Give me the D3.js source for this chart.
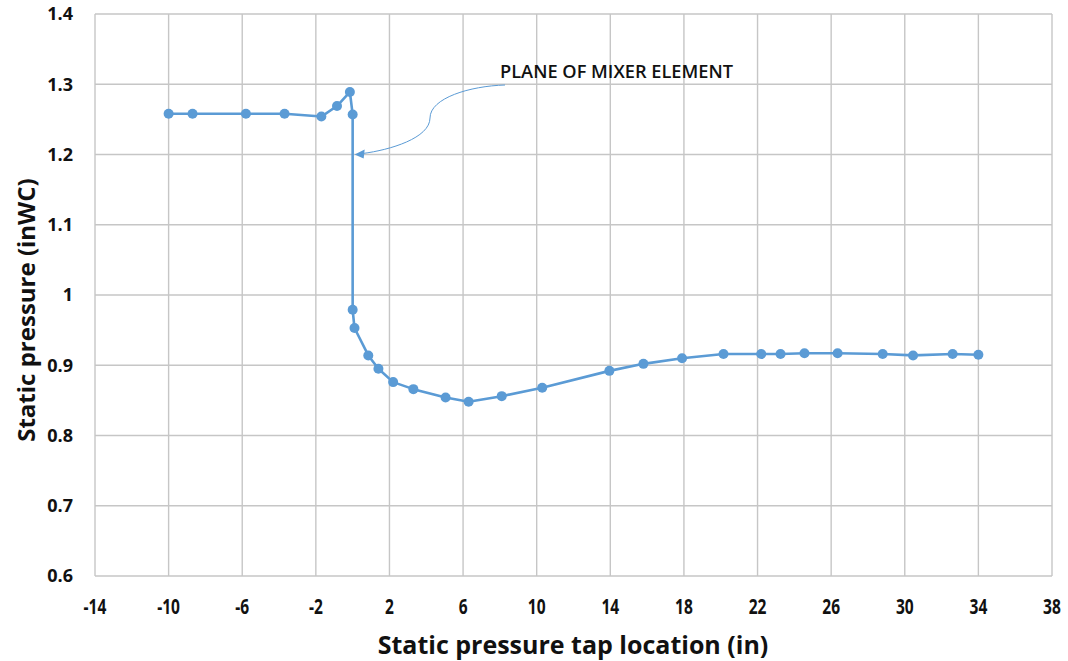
<!DOCTYPE html>
<html>
<head>
<meta charset="utf-8">
<script src="https://cdn.jsdelivr.net/npm/d3@7"></script>
<style>
  html, body { margin: 0; padding: 0; background: #fff; }
  svg { display: block; }
</style>
</head>
<body>
<svg id="chart" width="1068" height="661"></svg>
<script>
// Tap locations (in) and measured static pressure (inWC)
const tapLocation = [-10, -8.7, -5.8, -3.7, -1.7, -0.85, -0.15, 0, 0, 0.1, 0.85, 1.4, 2.2, 3.3, 5.05, 6.3, 8.1, 10.3, 13.95, 15.8, 17.9, 20.15, 22.2, 23.25, 24.55, 26.35, 28.8, 30.45, 32.6, 34];
const staticPressure = [1.258, 1.258, 1.258, 1.258, 1.254, 1.269, 1.289, 1.257, 0.979, 0.953, 0.914, 0.895, 0.876, 0.866, 0.854, 0.848, 0.856, 0.868, 0.892, 0.902, 0.910, 0.916, 0.916, 0.916, 0.917, 0.917, 0.916, 0.914, 0.916, 0.915];
const xTicks = [-14, -10, -6, -2, 2, 6, 10, 14, 18, 22, 26, 30, 34, 38];
const yTicks = [0.6, 0.7, 0.8, 0.9, 1, 1.1, 1.2, 1.3, 1.4];
const annotationText = "PLANE OF MIXER ELEMENT";
const annotationPoint = [0, 1.2];
const xTitle = "Static pressure tap location (in)";
const yTitle = "Static pressure (inWC)";

const svg = d3.select("#chart");
const blue = "#5b9bd5";
const grid = "#c6c6c6";
const font = "'Open Sans', 'DejaVu Sans', sans-serif";

const plot = { left: 95, right: 1052, top: 14, bottom: 576 };

const x = d3.scaleLinear().domain([-14, 38]).range([plot.left, plot.right]);
const y = d3.scaleLinear().domain([0.6, 1.4]).range([plot.bottom, plot.top]);

// Gridlines
const g = svg.append("g");
g.selectAll("line.vg").data(xTicks).join("line")
  .attr("x1", d => x(d)).attr("x2", d => x(d))
  .attr("y1", plot.top).attr("y2", plot.bottom)
  .attr("stroke", grid).attr("stroke-width", 1.4);
g.selectAll("line.hg").data(yTicks).join("line")
  .attr("x1", plot.left).attr("x2", plot.right)
  .attr("y1", d => y(d)).attr("y2", d => y(d))
  .attr("stroke", grid).attr("stroke-width", 1.4);

// Y tick labels
svg.append("g").selectAll("text").data(yTicks).join("text")
  .attr("x", 73).attr("y", d => y(d))
  .attr("dy", "0.35em")
  .attr("text-anchor", "end")
  .attr("font-family", font).attr("font-weight", 700).attr("font-size", 18)
  .attr("fill", "#111")
  .text(d => d3.format("")(d));

// X tick labels (condensed)
svg.append("g").selectAll("text").data(xTicks).join("text")
  .attr("transform", d => `translate(${x(d)},607) scale(0.74,1)`)
  .attr("dy", "0.35em")
  .attr("text-anchor", "middle")
  .attr("font-family", font).attr("font-weight", 700).attr("font-size", 21)
  .attr("fill", "#111")
  .text(d => d);

// Axis titles
svg.append("text")
  .attr("x", 573).attr("y", 645).attr("dy", "0.35em")
  .attr("text-anchor", "middle")
  .attr("font-family", font).attr("font-weight", 700).attr("font-size", 25)
  .attr("fill", "#111")
  .text(xTitle);
svg.append("text")
  .attr("transform", "translate(27,310) rotate(-90)")
  .attr("dy", "0.35em")
  .attr("text-anchor", "middle")
  .attr("font-family", font).attr("font-weight", 700).attr("font-size", 24)
  .attr("fill", "#111")
  .text(yTitle);

// Data series
const data = tapLocation.map((t, i) => [t, staticPressure[i]]);
svg.append("path")
  .datum(data)
  .attr("fill", "none")
  .attr("stroke", blue).attr("stroke-width", 2.6)
  .attr("stroke-linejoin", "round")
  .attr("d", d3.line().x(d => x(d[0])).y(d => y(d[1])));
svg.append("g").selectAll("circle").data(data).join("circle")
  .attr("cx", d => x(d[0])).attr("cy", d => y(d[1]))
  .attr("r", 5).attr("fill", blue);

// Callout for the mixer element plane
const tipX = x(annotationPoint[0]) + 2, tipY = y(annotationPoint[1]);
const startX = 505, startY = 85;
const callout = d3.path();
callout.moveTo(startX, startY);
callout.bezierCurveTo(470, 86, 430, 98, 430, 118);
callout.bezierCurveTo(430, 138, 390, 150, tipX + 8, tipY - 1);
svg.append("path")
  .attr("d", callout.toString())
  .attr("fill", "none").attr("stroke", blue).attr("stroke-width", 1);
svg.append("path")
  .attr("d", `M${tipX},${tipY} L${tipX + 10},${tipY - 5} L${tipX + 9},${tipY + 4} Z`)
  .attr("fill", blue);
svg.append("text")
  .attr("x", 500).attr("y", 72).attr("dy", "0.35em")
  .attr("font-family", font).attr("font-weight", 600).attr("font-size", 18)
  .attr("textLength", 233)
  .attr("lengthAdjust", "spacingAndGlyphs")
  .attr("fill", "#111")
  .text(annotationText);
</script>
</body>
</html>
